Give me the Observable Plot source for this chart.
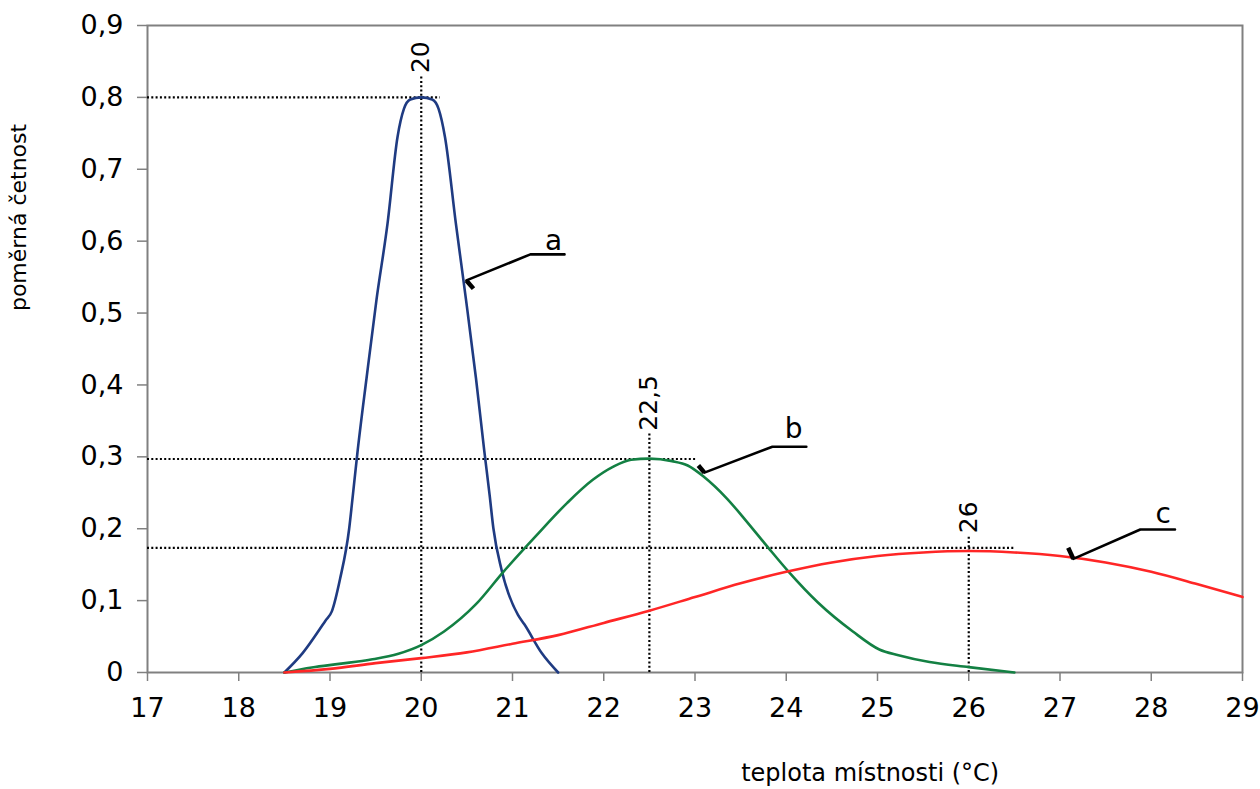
<!DOCTYPE html>
<html>
<head>
<meta charset="utf-8">
<script src="https://cdn.jsdelivr.net/npm/d3@7"></script>
<script src="https://cdn.jsdelivr.net/npm/@observablehq/plot@0.6"></script>
<style>
  html, body { margin: 0; padding: 0; background: #fff; }
  #chart svg { display: block; }
</style>
</head>
<body>
<div id="chart"></div>
<script>
// ---- data ----
const xTicks = [17, 18, 19, 20, 21, 22, 23, 24, 25, 26, 27, 28, 29];
const yTicks = [0, 0.1, 0.2, 0.3, 0.4, 0.5, 0.6, 0.7, 0.8, 0.9];
const yTickLabels = ["0", "0,1", "0,2", "0,3", "0,4", "0,5", "0,6", "0,7", "0,8", "0,9"];

// curve a (mean 20)
const aX = [18.5, 18.7, 18.95, 19.02, 19.11, 19.21, 19.25, 19.3, 19.4, 19.51, 19.63, 19.74, 19.81, 19.88, 20.0, 20.12, 20.19, 20.26, 20.38, 20.49, 20.6, 20.69, 20.75, 20.79, 20.88, 21.06, 21.13, 21.32, 21.5];
const aY = [0, 0.027, 0.072, 0.085, 0.13, 0.2, 0.246, 0.305, 0.409, 0.519, 0.624, 0.745, 0.784, 0.797, 0.8, 0.797, 0.784, 0.745, 0.624, 0.519, 0.409, 0.309, 0.246, 0.201, 0.143, 0.08, 0.067, 0.027, 0];

// curve b (mean 22.5)
const bX = [18.5, 18.8, 19.1, 19.45, 19.75, 20.0, 20.25, 20.6, 20.9, 21.25, 21.6, 21.88, 22.1, 22.3, 22.5, 22.75, 22.92, 23.1, 23.35, 23.56, 23.8, 24.02, 24.35, 24.73, 25.02, 25.23, 25.57, 26.0, 26.5];
const bY = [0, 0.007, 0.012, 0.018, 0.026, 0.038, 0.057, 0.095, 0.14, 0.189, 0.236, 0.268, 0.286, 0.296, 0.2975, 0.294, 0.288, 0.272, 0.242, 0.211, 0.174, 0.141, 0.097, 0.057, 0.032, 0.024, 0.0145, 0.0075, 0];

// curve c (mean 26)
const cX = [18.5, 19.0, 19.5, 20.0, 20.5, 21.0, 21.5, 22.0, 22.5, 23.0, 23.5, 24.0, 24.5, 25.0, 25.5, 26.0, 26.5, 27.0, 27.5, 28.0, 28.5, 29.0];
const cY = [0, 0.005, 0.013, 0.02, 0.028, 0.04, 0.052, 0.069, 0.086, 0.105, 0.124, 0.14, 0.153, 0.162, 0.167, 0.169, 0.167, 0.162, 0.153, 0.14, 0.123, 0.105];

// reference (dotted) lines: mean, peak level, extent of horizontal, top of vertical
const refNames = ["a", "b", "c"];
const refMean = [20, 22.5, 26];
const refMeanLabel = ["20", "22,5", "26"];
const refLevel = [0.8, 0.297, 0.1733];
const refHEnd = [20.21, 23.03, 26.51];
const refVTop = [0.829, 0.332, 0.188];
const refLabelY = [0.856, 0.375, 0.216];

// callouts: tip on curve, elbow, end; stub start; label position
const calloutTipX = [20.495, 23.103, 27.146];
const calloutTipY = [0.5454, 0.278, 0.158];
const calloutElbowX = [21.196, 23.848, 27.88];
const calloutElbowY = [0.5816, 0.314, 0.199];
const calloutEndX = [21.57, 24.22, 28.26];
const calloutStubX = [20.572, 23.037, 27.09];
const calloutStubY = [0.534, 0.288, 0.1736];
const calloutLabelX = [21.45, 24.08, 28.13];
const calloutLabelY = [0.6, 0.339, 0.22];

const xLabel = "teplota místnosti (°C)";
const yLabel = "poměrná četnost";

// ---- build tables ----
const toPts = (xs, ys) => xs.map((x, i) => ({x, y: ys[i]}));
const curves = [
  {pts: toPts(aX, aY), color: "#1f3b82"},
  {pts: toPts(bX, bY), color: "#138043"},
  {pts: toPts(cX, cY), color: "#ff2626"}
];
const refs = refNames.map((n, i) => ({
  n, mean: refMean[i], label: refMeanLabel[i], level: refLevel[i],
  hEnd: refHEnd[i], vTop: refVTop[i], labelY: refLabelY[i]
}));
const callouts = refNames.map((n, i) => ({
  n,
  path: [
    {x: calloutTipX[i], y: calloutTipY[i]},
    {x: calloutElbowX[i], y: calloutElbowY[i]},
    {x: calloutEndX[i], y: calloutElbowY[i]}
  ],
  stub: {x1: calloutStubX[i], y1: calloutStubY[i], x2: calloutTipX[i], y2: calloutTipY[i]},
  lx: calloutLabelX[i], ly: calloutLabelY[i]
}));

const font = "'DejaVu Sans', Verdana, sans-serif";
const axisGray = "#808080";

const chart = Plot.plot({
  width: 1260,
  height: 789,
  marginLeft: 147,
  marginRight: 18,
  marginTop: 25,
  marginBottom: 117,
  style: {fontFamily: font, fontSize: "27px", background: "#fff", color: "#000"},
  x: {domain: [17, 29]},
  y: {domain: [0, 0.9]},
  marks: [
    Plot.frame({stroke: axisGray, strokeWidth: 2}),
    Plot.axisX({
      ticks: xTicks, tickSize: 9, tickPadding: 16, fontSize: 27,
      stroke: axisGray, strokeWidth: 1.5, label: null, tickFormat: d => String(d)
    }),
    Plot.axisY({
      ticks: yTicks, tickSize: 10, tickPadding: 14, fontSize: 27,
      stroke: axisGray, strokeWidth: 1.5, label: null,
      tickFormat: d => yTickLabels[yTicks.findIndex(t => Math.abs(t - d) < 1e-9)]
    }),
    // dotted reference lines
    Plot.ruleY(refs, {y: "level", x1: 17, x2: "hEnd", stroke: "#000", strokeWidth: 2.2, strokeDasharray: "2,2.3"}),
    Plot.ruleX(refs, {x: "mean", y1: 0, y2: "vTop", stroke: "#000", strokeWidth: 2.2, strokeDasharray: "2,2.3"}),
    Plot.text(refs, {x: "mean", y: "labelY", text: "label", rotate: -90, fontSize: 25, fill: "#000"}),
    // curves
    ...curves.map(c => Plot.line(c.pts, {x: "x", y: "y", stroke: c.color, strokeWidth: 2.6, curve: "monotone-x"})),
    // callouts
    ...callouts.map(c => Plot.line(c.path, {x: "x", y: "y", stroke: "#000", strokeWidth: 2.6})),
    Plot.link(callouts.map(c => c.stub), {x1: "x1", y1: "y1", x2: "x2", y2: "y2", stroke: "#000", strokeWidth: 4.5}),
    Plot.text(callouts, {x: "lx", y: "ly", text: "n", fontSize: 28, fill: "#000"}),
    // axis titles
    Plot.text([xLabel], {x: 24.92, frameAnchor: "bottom", dy: 108, fontSize: 24, fill: "#000"}),
    Plot.text([yLabel], {y: 0.633, frameAnchor: "left", dx: -129, rotate: -90, textAnchor: "middle", fontSize: 22, fill: "#000"})
  ]
});
document.getElementById("chart").appendChild(chart);
</script>
</body>
</html>
